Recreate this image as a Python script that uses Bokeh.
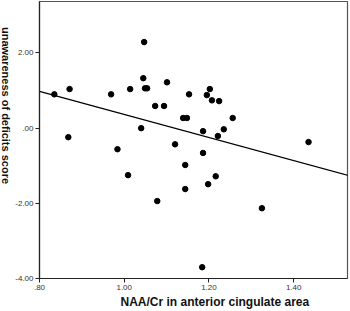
import math
from bokeh.plotting import figure
from bokeh.layouts import row
from bokeh.models import FixedTicker, Label, Range1d, Title
from bokeh.embed import file_html
from bokeh.resources import INLINE

# NAA/Cr in anterior cingulate area (x) vs unawareness of deficits score (y)
naa_cr = [0.835, 0.871, 0.868, 0.969, 0.984, 1.009, 1.014, 1.040, 1.045, 1.047,
          1.049, 1.054, 1.073, 1.078, 1.094, 1.101, 1.120, 1.139, 1.148, 1.144,
          1.144, 1.153, 1.186, 1.186, 1.184, 1.195, 1.198, 1.202, 1.207, 1.216,
          1.221, 1.224, 1.235, 1.256, 1.325, 1.435]
unawareness = [0.90, 1.04, -0.24, 0.90, -0.56, -1.25, 1.04, 0.00, 1.33, 2.29,
               1.06, 1.06, 0.59, -1.94, 0.59, 1.22, -0.43, 0.27, 0.27, -0.98,
               -1.62, 0.90, -0.08, -0.66, -3.70, 0.88, -1.49, 1.04, 0.74, -1.28,
               -0.21, 0.72, -0.03, 0.27, -2.13, -0.37]

# fitted regression line
fit_x = [0.80, 1.53]
fit_y = [0.98, -1.26]

x_ticks = [0.80, 1.00, 1.20, 1.40]
x_tick_labels = [".80", "1.00", "1.20", "1.40"]
y_ticks = [-4.0, -2.0, 0.0, 2.0]
y_tick_labels = ["-4.00", "-2.00", ".00", "2.00"]

x_title = "NAA/Cr in anterior cingulate area"
y_title = "unawareness of deficits score"

LEFT_W = 12

p = figure(width=350 - LEFT_W, height=311, output_backend="svg", toolbar_location=None,
           x_range=Range1d(0.80, 1.527), y_range=Range1d(-4.0, 3.37),
           min_border_left=38 - LEFT_W, min_border_right=3, min_border_top=1,
           min_border_bottom=33)
p.background_fill_color = "white"
p.border_fill_color = "white"
p.grid.visible = False
p.outline_line_color = "#555555"
p.outline_line_width = 1.2

for ax, ticks, labels in ((p.xaxis, x_ticks, x_tick_labels), (p.yaxis, y_ticks, y_tick_labels)):
    ax.ticker = FixedTicker(ticks=ticks)
    ax.major_label_overrides = {t: l for t, l in zip(ticks, labels)}
    ax.minor_tick_line_color = None
    ax.major_tick_in = 0
    ax.major_tick_out = 4
    ax.axis_line_color = "#222222"
    ax.axis_line_width = 1.2
    ax.major_tick_line_color = "#222222"
    ax.major_label_text_font = "Liberation Sans"
    ax.major_label_text_font_size = "8px"
    ax.major_label_text_color = "#333333"
    ax.major_label_standoff = 2

p.line(fit_x, fit_y, line_color="black", line_width=1.3)
p.scatter(naa_cr, unawareness, size=5.5, fill_color="black", line_color="black")

p.add_layout(Title(text=x_title, align="left", offset=81,
                   text_font="Liberation Sans", text_font_style="bold",
                   text_font_size="12px", text_color="#111111", standoff=1), "below")

# narrow side panel carrying the y-axis title (reads top to bottom)
side = figure(width=LEFT_W, height=311, output_backend="svg", toolbar_location=None,
              x_range=Range1d(0, 1), y_range=Range1d(0, 1),
              min_border_left=0, min_border_right=0, min_border_top=0, min_border_bottom=0)
side.axis.visible = False
side.grid.visible = False
side.outline_line_color = None
side.background_fill_color = "white"
side.border_fill_color = "white"
side.add_layout(Label(x=5, y=105, x_units="canvas", y_units="canvas", text=y_title,
                      angle=-math.pi / 2, text_font="Liberation Sans", text_font_style="bold",
                      text_font_size="11px", text_align="center", text_baseline="middle",
                      text_color="#111111"))

layout = row(side, p, spacing=0)
open("out.html", "w").write(file_html(layout, INLINE))
